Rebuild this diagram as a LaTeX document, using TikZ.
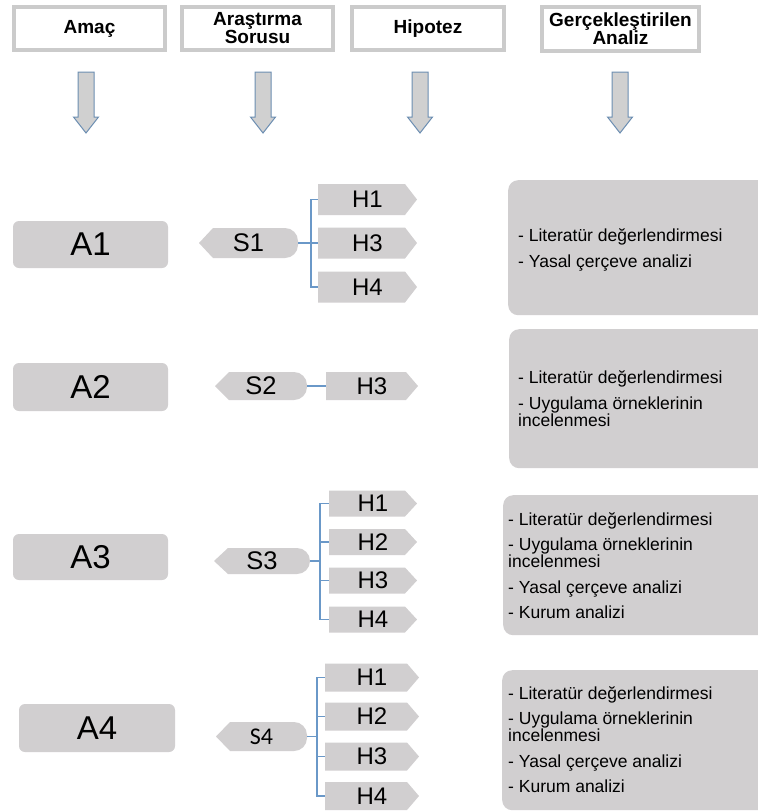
\documentclass[tikz,border=0pt]{standalone}
\usepackage{fontspec}
\setmainfont{Liberation Sans}
\newfontfamily\narrowfont{Carlito}

\definecolor{boxgray}{HTML}{D1CFD0}
\definecolor{hdrgray}{HTML}{CBCBCB}
\definecolor{arrline}{HTML}{6C8EB2}
\definecolor{arrfill}{HTML}{D0D0D0}
\definecolor{connblue}{HTML}{6A98C8}

\tikzset{
  header/.style={draw=hdrgray, line width=4pt, fill=white, inner sep=0pt,
    align=center, font=\fontsize{19}{18}\selectfont\bfseries},
  aimbox/.style={fill=boxgray, rounded corners=6pt, minimum width=155pt,
    minimum height=47pt, inner sep=0pt, font=\fontsize{33}{33}\selectfont},
  % pentagon pointing right, flat on the left
  hypbox/.style={inner sep=0pt, font=\fontsize{24}{24}\selectfont,
    path picture={
      \fill[boxgray] (path picture bounding box.north west)
        -- ([xshift=-12pt]path picture bounding box.north east)
        -- (path picture bounding box.east)
        -- ([xshift=-12pt]path picture bounding box.south east)
        -- (path picture bounding box.south west) -- cycle;}},
  % pointed on the left, rounded on the right
  qbox/.style={inner sep=0pt, font=\fontsize{25.5}{25.5}\selectfont,
    path picture={
      \fill[boxgray] (path picture bounding box.west)
        -- ([xshift=14pt]path picture bounding box.north west)
        [rounded corners=13pt] -- (path picture bounding box.north east)
        -- (path picture bounding box.south east)
        [sharp corners] -- ([xshift=14pt]path picture bounding box.south west)
        -- cycle;}},
  anbox/.style={fill=boxgray, rounded corners=10pt, inner sep=0pt, anchor=north west},
  antext/.style={align=left, inner sep=0pt, anchor=west,
    font=\fontsize{17.5}{17}\selectfont},
  conn/.style={draw=connblue, line width=1.4pt},
  downarrow/.pic={
    \draw[draw=arrline, fill=arrfill, line width=1pt, line join=miter]
      (-8,0) -- (8,0) -- (8,45) -- (12.5,45) -- (0,61) -- (-12.5,45)
      -- (-8,45) -- cycle;}
}

\newcommand{\itemgap}{\\[8.5pt]}
\newcommand{\hlabel}[1]{#1\hspace{6pt}}

\begin{document}
\begin{tikzpicture}[x=1pt, y=-1pt]
  \clip (0,0) rectangle (758,812);
  \fill[white] (0,0) rectangle (758,812);

  % column headers
  \node[header, minimum width=151pt, minimum height=43pt] (hA) at (89.5,28.5) {Amaç};
  \node[header, minimum width=151pt, minimum height=43pt] (hS) at (257.5,28.5) {Araştırma\\Sorusu};
  \node[header, minimum width=152pt, minimum height=43pt] (hH) at (428,28.5) {Hipotez};
  \node[header, minimum width=157pt, minimum height=44pt] (hG) at (620.5,29) {Gerçekleştirilen\\Analiz};

  % block arrows under the headers
  \pic at (86,72) {downarrow};
  \pic at (263,72) {downarrow};
  \pic at (420,72) {downarrow};
  \pic at (620,72) {downarrow};

  % ---------- row 1 ----------
  \node[aimbox] (a1) at (90.5,244.5) {A1};
  \node[qbox, minimum width=99pt, minimum height=30pt] (s1) at (248.5,243) {S1};
  \node[hypbox, minimum width=99pt, minimum height=31pt] (r1h1) at (367.5,199.5) {\hlabel{H1}};
  \node[hypbox, minimum width=99pt, minimum height=31pt] (r1h3) at (367.5,243) {\hlabel{H3}};
  \node[hypbox, minimum width=99pt, minimum height=31pt] (r1h4) at (367.5,287) {\hlabel{H4}};
  \coordinate (j1) at (311,243);
  \draw[conn] (s1.east) -- (j1);
  \draw[conn] (r1h1.west) -| (j1) |- (r1h4.west);
  \draw[conn] (j1) -- (r1h3.west);
  \node[anbox, minimum width=264pt, minimum height=135pt] (an1) at (508,180) {};
  \node[antext] (t1) at (518,250) {- Literatür değerlendirmesi\itemgap- Yasal çerçeve analizi};

  % ---------- row 2 ----------
  \node[aimbox, minimum height=48pt] (a2) at (90.5,387) {A2};
  \node[qbox, minimum width=92pt, minimum height=28pt] (s2) at (261,386) {S2};
  \node[hypbox, minimum width=92pt, minimum height=28pt] (r2h3) at (372,386) {\hlabel{H3}};
  \draw[conn] (s2.east) -- (r2h3.west);
  \node[anbox, minimum width=263pt, minimum height=139pt] (an2) at (509,329) {};
  \node[antext] (t2) at (518,398.5) {- Literatür değerlendirmesi\itemgap- Uygulama örneklerinin\\incelenmesi};

  % ---------- row 3 ----------
  \node[aimbox, minimum height=46pt] (a3) at (90.5,557) {A3};
  \node[qbox, minimum width=96pt, minimum height=26pt] (s3) at (262,561) {S3};
  \node[hypbox, minimum width=88pt, minimum height=26pt] (r3h1) at (373,503.5) {\hlabel{H1}};
  \node[hypbox, minimum width=88pt, minimum height=26pt] (r3h2) at (373,542) {\hlabel{H2}};
  \node[hypbox, minimum width=88pt, minimum height=26pt] (r3h3) at (373,580.5) {\hlabel{H3}};
  \node[hypbox, minimum width=88pt, minimum height=26pt] (r3h4) at (373,619.5) {\hlabel{H4}};
  \coordinate (j3) at (320,561);
  \draw[conn] (s3.east) -- (j3);
  \draw[conn] (r3h1.west) -| (j3) |- (r3h4.west);
  \draw[conn] (r3h2.west) -| (j3);
  \draw[conn] (r3h3.west) -| (j3);
  \node[anbox, minimum width=269pt, minimum height=140pt] (an3) at (503,495) {};
  \node[antext] (t3) at (508,565.5) {- Literatür değerlendirmesi\itemgap- Uygulama örneklerinin\\incelenmesi\itemgap- Yasal çerçeve analizi\itemgap- Kurum analizi};

  % ---------- row 4 ----------
  \node[aimbox, minimum width=156pt, minimum height=48pt] (a4) at (97,728) {A4};
  \node[qbox, minimum width=91pt, minimum height=29pt, font=\narrowfont\fontsize{24}{24}\selectfont] (s4) at (261.5,736.5) {S4};
  \node[hypbox, minimum width=94pt, minimum height=28pt] (r4h1) at (372,677.5) {\hlabel{H1}};
  \node[hypbox, minimum width=94pt, minimum height=28pt] (r4h2) at (372,716.5) {\hlabel{H2}};
  \node[hypbox, minimum width=94pt, minimum height=28pt] (r4h3) at (372,756.5) {\hlabel{H3}};
  \node[hypbox, minimum width=94pt, minimum height=28pt] (r4h4) at (372,796) {\hlabel{H4}};
  \coordinate (j4) at (317,736.5);
  \draw[conn] (s4.east) -- (j4);
  \draw[conn] (r4h1.west) -| (j4) |- (r4h4.west);
  \draw[conn] (r4h2.west) -| (j4);
  \draw[conn] (r4h3.west) -| (j4);
  \node[anbox, minimum width=270pt, minimum height=140pt] (an4) at (502,670) {};
  \node[antext] (t4) at (508,739.5) {- Literatür değerlendirmesi\itemgap- Uygulama örneklerinin\\incelenmesi\itemgap- Yasal çerçeve analizi\itemgap- Kurum analizi};
\end{tikzpicture}
\end{document}
